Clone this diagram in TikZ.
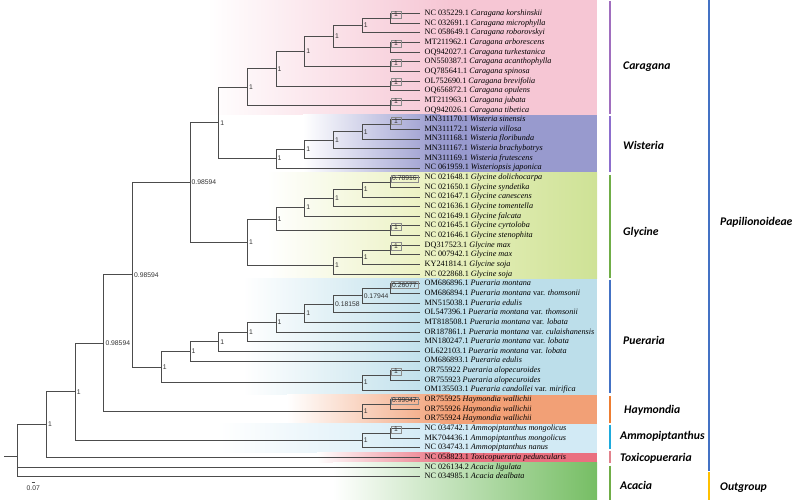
\documentclass[tikz,border=0pt]{standalone}
\usepackage{fontspec}
\setmainfont{Liberation Serif}
\setsansfont{Liberation Sans}
\newfontfamily\cladefont{Carlito}
\usepackage{tikz}

\definecolor{carband}{RGB}{246,198,212}
\definecolor{wisband}{RGB}{152,154,206}
\definecolor{glyband}{RGB}{236,242,196}
\definecolor{glybandr}{RGB}{206,226,150}
\definecolor{pueband}{RGB}{188,222,234}
\definecolor{hayband}{RGB}{242,160,118}
\definecolor{ammband}{RGB}{210,234,245}
\definecolor{toxband}{RGB}{234,112,128}
\definecolor{acaband}{RGB}{118,190,100}
\definecolor{carbar}{RGB}{160,110,190}
\definecolor{wisbar}{RGB}{140,110,205}
\definecolor{glybar}{RGB}{112,173,71}
\definecolor{puebar}{RGB}{68,114,196}
\definecolor{haybar}{RGB}{237,125,49}
\definecolor{ammbar}{RGB}{30,170,220}
\definecolor{toxbar}{RGB}{225,130,140}
\definecolor{outbar}{RGB}{255,192,0}

\begin{document}
\begin{tikzpicture}[x=1pt, y=-1pt,
    branch/.style={draw=black!70, line width=0.7pt},
    tip/.style={anchor=west, inner xsep=5pt, inner ysep=0pt, text height=5.8pt, text depth=1.7pt, font=\fontsize{8.2}{9}\selectfont},
    supp/.style={anchor=west, inner sep=1.5pt, font=\sffamily\fontsize{6.8}{7}\selectfont, text=black!80},
    boxsupp/.style={anchor=south west, draw=black!45, line width=0.4pt, inner xsep=1.2pt, inner ysep=1.2pt, minimum width=10pt, font=\sffamily\fontsize{6.8}{7}\selectfont, text=black!80},
    bar/.style={line width=2.5pt},
    clade/.style={anchor=west, inner sep=0pt, font=\cladefont\bfseries\itshape\fontsize{11.7}{13}\selectfont}]
  \useasboundingbox (0,0) rectangle (798,500);

  % coloured bands
  \shade[left color=white, right color=carband] (207,0) rectangle (450,114.8);
  \fill[carband] (450,0) rectangle (597,114.8);
  \shade[left color=white, right color=wisband] (303,114.8) rectangle (440,172.7);
  \fill[wisband] (440,114.8) rectangle (597,172.7);
  \shade[left color=white, right color=glyband] (267,172.7) rectangle (420,278.9);
  \shade[left color=glyband, right color=glybandr] (420,172.7) rectangle (597,278.9);
  \shade[left color=white, right color=pueband] (243,278.9) rectangle (440,394.7);
  \fill[pueband] (440,278.9) rectangle (597,394.7);
  \shade[left color=white, right color=hayband] (287,394.7) rectangle (450,423.6);
  \fill[hayband] (450,394.7) rectangle (597,423.6);
  \shade[left color=white, right color=ammband] (217,423.6) rectangle (440,452.6);
  \fill[ammband] (440,423.6) rectangle (597,452.6);
  \shade[left color=white, right color=toxband] (317,452.6) rectangle (450,462.2);
  \fill[toxband] (450,452.6) rectangle (597,462.2);
  \shade[left color=white, right color=acaband] (333,462.2) rectangle (597,500);

  % tips
  \node[tip] (t0) at (419.5,13.5) {NC 035229.1 \textit{Caragana korshinskii}};
  \node[tip] (t1) at (419.5,23.15) {NC 032691.1 \textit{Caragana microphylla}};
  \node[tip] (t2) at (419.5,32.8) {NC 058649.1 \textit{Caragana roborovskyi}};
  \node[tip] (t3) at (419.5,42.45) {MT211962.1 \textit{Caragana arborescens}};
  \node[tip] (t4) at (419.5,52.1) {OQ942027.1 \textit{Caragana turkestanica}};
  \node[tip] (t5) at (419.5,61.75) {ON550387.1 \textit{Caragana acanthophylla}};
  \node[tip] (t6) at (419.5,71.4) {OQ785641.1 \textit{Caragana spinosa}};
  \node[tip] (t7) at (419.5,81.05) {OL752690.1 \textit{Caragana brevifolia}};
  \node[tip] (t8) at (419.5,90.7) {OQ656872.1 \textit{Caragana opulens}};
  \node[tip] (t9) at (419.5,100.35) {MT211963.1 \textit{Caragana jubata}};
  \node[tip] (t10) at (419.5,110) {OQ942026.1 \textit{Caragana tibetica}};
  \node[tip] (t11) at (419.5,119.65) {MN311170.1 \textit{Wisteria sinensis}};
  \node[tip] (t12) at (419.5,129.3) {MN311172.1 \textit{Wisteria villosa}};
  \node[tip] (t13) at (419.5,138.95) {MN311168.1 \textit{Wisteria floribunda}};
  \node[tip] (t14) at (419.5,148.6) {MN311167.1 \textit{Wisteria brachybotrys}};
  \node[tip] (t15) at (419.5,158.25) {MN311169.1 \textit{Wisteria frutescens}};
  \node[tip] (t16) at (419.5,167.9) {NC 061959.1 \textit{Wisteriopsis japonica}};
  \node[tip] (t17) at (419.5,177.55) {NC 021648.1 \textit{Glycine dolichocarpa}};
  \node[tip] (t18) at (419.5,187.2) {NC 021650.1 \textit{Glycine syndetika}};
  \node[tip] (t19) at (419.5,196.85) {NC 021647.1 \textit{Glycine canescens}};
  \node[tip] (t20) at (419.5,206.5) {NC 021636.1 \textit{Glycine tomentella}};
  \node[tip] (t21) at (419.5,216.15) {NC 021649.1 \textit{Glycine falcata}};
  \node[tip] (t22) at (419.5,225.8) {NC 021645.1 \textit{Glycine cyrtoloba}};
  \node[tip] (t23) at (419.5,235.45) {NC 021646.1 \textit{Glycine stenophita}};
  \node[tip] (t24) at (419.5,245.1) {DQ317523.1 \textit{Glycine max}};
  \node[tip] (t25) at (419.5,254.75) {NC 007942.1 \textit{Glycine max}};
  \node[tip] (t26) at (419.5,264.4) {KY241814.1 \textit{Glycine soja}};
  \node[tip] (t27) at (419.5,274.05) {NC 022868.1 \textit{Glycine soja}};
  \node[tip] (t28) at (419.5,283.7) {OM686896.1 \textit{Pueraria montana}};
  \node[tip] (t29) at (419.5,293.35) {OM686894.1 \textit{Pueraria montana} var. \textit{thomsonii}};
  \node[tip] (t30) at (419.5,303) {MN515038.1 \textit{Pueraria edulis}};
  \node[tip] (t31) at (419.5,312.65) {OL547396.1 \textit{Pueraria montana} var. \textit{thomsonii}};
  \node[tip] (t32) at (419.5,322.3) {MT818508.1 \textit{Pueraria montana} var. \textit{lobata}};
  \node[tip] (t33) at (419.5,331.95) {OR187861.1 \textit{Pueraria montana} var. \textit{culaishanensis}};
  \node[tip] (t34) at (419.5,341.6) {MN180247.1 \textit{Pueraria montana} var. \textit{lobata}};
  \node[tip] (t35) at (419.5,351.25) {OL622103.1 \textit{Pueraria montana} var. \textit{lobata}};
  \node[tip] (t36) at (419.5,360.9) {OM686893.1 \textit{Pueraria edulis}};
  \node[tip] (t37) at (419.5,370.55) {OR755922 \textit{Pueraria alopecuroides}};
  \node[tip] (t38) at (419.5,380.2) {OR755923 \textit{Pueraria alopecuroides}};
  \node[tip] (t39) at (419.5,389.85) {OM135503.1 \textit{Pueraria candollei} var. \textit{mirifica}};
  \node[tip] (t40) at (419.5,399.5) {OR755925 \textit{Haymondia wallichii}};
  \node[tip] (t41) at (419.5,409.15) {OR755926 \textit{Haymondia wallichii}};
  \node[tip] (t42) at (419.5,418.8) {OR755924 \textit{Haymondia wallichii}};
  \node[tip] (t43) at (419.5,428.45) {NC 034742.1 \textit{Ammopiptanthus mongolicus}};
  \node[tip] (t44) at (419.5,438.1) {MK704436.1 \textit{Ammopiptanthus mongolicus}};
  \node[tip] (t45) at (419.5,447.75) {NC 034743.1 \textit{Ammopiptanthus nanus}};
  \node[tip] (t46) at (419.5,457.4) {NC 058823.1 \textit{Toxicopueraria peduncularis}};
  \node[tip] (t47) at (419.5,467.05) {NC 026134.2 \textit{Acacia ligulata}};
  \node[tip] (t48) at (419.5,476.7) {NC 034985.1 \textit{Acacia dealbata}};

  % internal nodes
  \coordinate (ca1) at (390.8,18.33);
  \coordinate (ca2) at (362.1,25.56);
  \coordinate (ca3) at (390.8,47.28);
  \coordinate (ca4) at (333.4,36.42);
  \coordinate (ca5) at (390.8,66.58);
  \coordinate (ca6) at (304.7,51.5);
  \coordinate (ca7) at (390.8,85.88);
  \coordinate (ca8) at (276,68.69);
  \coordinate (ca9) at (390.8,105.18);
  \coordinate (ca10) at (247.3,86.93);
  \coordinate (wi1) at (390.8,124.48);
  \coordinate (wi2) at (362.1,131.71);
  \coordinate (wi3) at (333.4,140.16);
  \coordinate (wi4) at (304.7,149.2);
  \coordinate (wi5) at (276,158.55);
  \coordinate (cw) at (218.6,122.74);
  \coordinate (gl1) at (390.8,182.38);
  \coordinate (gl2) at (362.1,189.61);
  \coordinate (gl3) at (333.4,198.06);
  \coordinate (gl4) at (304.7,207.1);
  \coordinate (gl5) at (390.8,230.63);
  \coordinate (gl6) at (276,218.87);
  \coordinate (gl7) at (390.8,249.93);
  \coordinate (gl8) at (362.1,257.16);
  \coordinate (gl9) at (333.4,265.6);
  \coordinate (gl10) at (247.3,242.24);
  \coordinate (n5) at (189.9,182.49);
  \coordinate (pu1) at (390.8,288.53);
  \coordinate (pu2) at (362.1,295.76);
  \coordinate (pu3) at (333.4,304.21);
  \coordinate (pu4) at (304.7,313.25);
  \coordinate (pu5) at (276,322.6);
  \coordinate (pu6) at (247.3,332.1);
  \coordinate (pu7) at (218.6,341.68);
  \coordinate (pu8) at (189.9,351.29);
  \coordinate (pu9) at (390.8,375.38);
  \coordinate (pu10) at (362.1,382.61);
  \coordinate (pu11) at (161.2,366.95);
  \coordinate (n4) at (132.5,274.72);
  \coordinate (ha1) at (390.8,404.33);
  \coordinate (ha2) at (362.1,411.56);
  \coordinate (n3) at (103.8,343.14);
  \coordinate (am1) at (390.8,433.28);
  \coordinate (am2) at (362.1,440.51);
  \coordinate (n2) at (75.1,391.83);
  \coordinate (n1) at (46.4,424.61);
  \coordinate (root) at (17.7,456.1);
  \coordinate (stem) at (4,456.1);

  % branches
  \draw[branch] (ca1) |- (t0.west) (ca1) |- (t1.west);
  \draw[branch] (ca2) |- (ca1) (ca2) |- (t2.west);
  \draw[branch] (ca3) |- (t3.west) (ca3) |- (t4.west);
  \draw[branch] (ca4) |- (ca2) (ca4) |- (ca3);
  \draw[branch] (ca5) |- (t5.west) (ca5) |- (t6.west);
  \draw[branch] (ca6) |- (ca4) (ca6) |- (ca5);
  \draw[branch] (ca7) |- (t7.west) (ca7) |- (t8.west);
  \draw[branch] (ca8) |- (ca6) (ca8) |- (ca7);
  \draw[branch] (ca9) |- (t9.west) (ca9) |- (t10.west);
  \draw[branch] (ca10) |- (ca8) (ca10) |- (ca9);
  \draw[branch] (wi1) |- (t11.west) (wi1) |- (t12.west);
  \draw[branch] (wi2) |- (wi1) (wi2) |- (t13.west);
  \draw[branch] (wi3) |- (wi2) (wi3) |- (t14.west);
  \draw[branch] (wi4) |- (wi3) (wi4) |- (t15.west);
  \draw[branch] (wi5) |- (wi4) (wi5) |- (t16.west);
  \draw[branch] (cw) |- (ca10) (cw) |- (wi5);
  \draw[branch] (gl1) |- (t17.west) (gl1) |- (t18.west);
  \draw[branch] (gl2) |- (gl1) (gl2) |- (t19.west);
  \draw[branch] (gl3) |- (gl2) (gl3) |- (t20.west);
  \draw[branch] (gl4) |- (gl3) (gl4) |- (t21.west);
  \draw[branch] (gl5) |- (t22.west) (gl5) |- (t23.west);
  \draw[branch] (gl6) |- (gl4) (gl6) |- (gl5);
  \draw[branch] (gl7) |- (t24.west) (gl7) |- (t25.west);
  \draw[branch] (gl8) |- (gl7) (gl8) |- (t26.west);
  \draw[branch] (gl9) |- (gl8) (gl9) |- (t27.west);
  \draw[branch] (gl10) |- (gl6) (gl10) |- (gl9);
  \draw[branch] (n5) |- (cw) (n5) |- (gl10);
  \draw[branch] (pu1) |- (t28.west) (pu1) |- (t29.west);
  \draw[branch] (pu2) |- (pu1) (pu2) |- (t30.west);
  \draw[branch] (pu3) |- (pu2) (pu3) |- (t31.west);
  \draw[branch] (pu4) |- (pu3) (pu4) |- (t32.west);
  \draw[branch] (pu5) |- (pu4) (pu5) |- (t33.west);
  \draw[branch] (pu6) |- (pu5) (pu6) |- (t34.west);
  \draw[branch] (pu7) |- (pu6) (pu7) |- (t35.west);
  \draw[branch] (pu8) |- (pu7) (pu8) |- (t36.west);
  \draw[branch] (pu9) |- (t37.west) (pu9) |- (t38.west);
  \draw[branch] (pu10) |- (pu9) (pu10) |- (t39.west);
  \draw[branch] (pu11) |- (pu8) (pu11) |- (pu10);
  \draw[branch] (n4) |- (n5) (n4) |- (pu11);
  \draw[branch] (ha1) |- (t40.west) (ha1) |- (t41.west);
  \draw[branch] (ha2) |- (ha1) (ha2) |- (t42.west);
  \draw[branch] (n3) |- (n4) (n3) |- (ha2);
  \draw[branch] (am1) |- (t43.west) (am1) |- (t44.west);
  \draw[branch] (am2) |- (am1) (am2) |- (t45.west);
  \draw[branch] (n2) |- (n3) (n2) |- (am2);
  \draw[branch] (n1) |- (n2) (n1) |- (t46.west);
  \draw[branch] (root) |- (n1) (root) |- (t47.west) (root) |- (t48.west);
  \draw[branch] (stem) -- (root);

  % support values
  \node[boxsupp] (s1) at (ca1) {1};
  \node[supp] (s2) at (ca2) {1};
  \node[boxsupp] (s3) at (ca3) {1};
  \node[supp] (s4) at (ca4) {1};
  \node[boxsupp] (s5) at (ca5) {1};
  \node[supp] (s6) at (ca6) {1};
  \node[boxsupp] (s7) at (ca7) {1};
  \node[supp] (s8) at (ca8) {1};
  \node[boxsupp] (s9) at (ca9) {1};
  \node[supp] (s10) at (ca10) {1};
  \node[boxsupp] (s11) at (wi1) {1};
  \node[supp] (s12) at (wi2) {1};
  \node[supp] (s13) at (wi3) {1};
  \node[supp] (s14) at (wi4) {1};
  \node[supp] (s15) at (wi5) {1};
  \node[supp] (s16) at (cw) {1};
  \node[boxsupp] (s17) at (gl1) {0.78916};
  \node[supp] (s18) at (gl2) {1};
  \node[supp] (s19) at (gl3) {1};
  \node[supp] (s20) at (gl4) {1};
  \node[boxsupp] (s21) at (gl5) {1};
  \node[supp] (s22) at (gl6) {1};
  \node[boxsupp] (s23) at (gl7) {1};
  \node[supp] (s24) at (gl8) {1};
  \node[supp] (s25) at (gl9) {1};
  \node[supp] (s26) at (gl10) {1};
  \node[supp] (s27) at (n5) {0.98594};
  \node[boxsupp] (s28) at (pu1) {0.26077};
  \node[supp] (s29) at (pu2) {0.17944};
  \node[supp] (s30) at (pu3) {0.18158};
  \node[supp] (s31) at (pu4) {1};
  \node[supp] (s32) at (pu5) {1};
  \node[supp] (s33) at (pu6) {1};
  \node[supp] (s34) at (pu7) {1};
  \node[supp] (s35) at (pu8) {1};
  \node[boxsupp] (s36) at (pu9) {1};
  \node[supp] (s37) at (pu10) {1};
  \node[supp] (s38) at (pu11) {1};
  \node[supp] (s39) at (n4) {0.98594};
  \node[boxsupp] (s40) at (ha1) {0.99047};
  \node[supp] (s41) at (ha2) {1};
  \node[supp] (s42) at (n3) {0.98594};
  \node[boxsupp] (s43) at (am1) {1};
  \node[supp] (s44) at (am2) {1};
  \node[supp] (s45) at (n2) {1};
  \node[supp] (s46) at (n1) {1};

  % scale
  \draw[black!70, line width=0.5pt] (31.5,482.5) -- (35,482.5);
  \node[supp, anchor=north] (sc) at (33.3,484) {0.07};

  % clade bars
  \draw[bar, carbar] (610,1) -- (610,114);
  \draw[bar, wisbar] (610,116) -- (610,172);
  \draw[bar, glybar] (610,175) -- (610,278);
  \draw[bar, puebar] (610,279.5) -- (610,393);
  \draw[bar, haybar] (610,396) -- (610,422.5);
  \draw[bar, ammbar] (610,424.5) -- (610,448.5);
  \draw[bar, toxbar] (610,450.5) -- (610,463);
  \draw[bar, glybar] (610,465.5) -- (610,500);
  \draw[bar, puebar] (709,0) -- (709,470.7);
  \draw[bar, outbar] (709,472) -- (709,500);

  \node[clade] (car) at (623,66.7) {Caragana};
  \node[clade] (wis) at (623,145.7) {Wisteria};
  \node[clade] (gly) at (623,232.7) {Glycine};
  \node[clade] (pue) at (623,340.7) {Pueraria};
  \node[clade] (hay) at (624,410.7) {Haymondia};
  \node[clade] (amm) at (620,436) {Ammopiptanthus};
  \node[clade] (tox) at (620,458.3) {Toxicopueraria};
  \node[clade] (aca) at (620,485) {Acacia};
  \node[clade] (pap) at (720,222.7) {Papilionoideae};
  \node[clade] (out) at (720,487.3) {Outgroup};
\end{tikzpicture}
\end{document}
